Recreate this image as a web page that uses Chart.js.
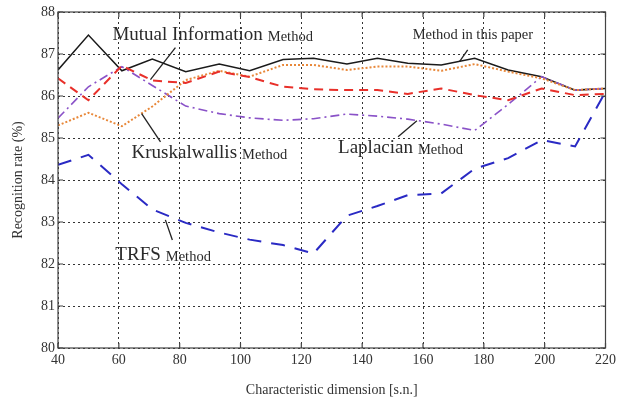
<!DOCTYPE html>
<html>
<head>
<meta charset="utf-8">
<script src="https://cdn.jsdelivr.net/npm/chart.js@4/dist/chart.umd.min.js"></script>
<style>
  html, body { margin: 0; padding: 0; background: #fff; }
  #wrap { width: 620px; height: 403px; }
</style>
</head>
<body>
<div id="wrap"><canvas id="chart"></canvas></div>
<script>
// characteristic dimension where the curves were sampled
const dims = [40, 50, 61, 71, 82, 93, 103, 114, 124, 135, 145, 155, 166, 177, 188, 199, 210, 220];

const thisPaper   = [86.62, 87.45, 86.6, 86.88, 86.58, 86.76, 86.6, 86.87, 86.9, 86.76, 86.9, 86.78, 86.74, 86.9, 86.62, 86.46, 86.14, 86.18];
const mutualInfo  = [86.42, 85.9, 86.72, 86.37, 86.31, 86.58, 86.45, 86.22, 86.16, 86.14, 86.14, 86.05, 86.18, 86.02, 85.9, 86.18, 86.02, 86.05];
const kruskal     = [85.3, 85.6, 85.28, 85.75, 86.38, 86.6, 86.46, 86.74, 86.74, 86.62, 86.7, 86.7, 86.6, 86.76, 86.58, 86.42, 86.14, 86.18];
const laplacian   = [85.47, 86.22, 86.7, 86.25, 85.76, 85.58, 85.48, 85.42, 85.46, 85.57, 85.52, 85.45, 85.33, 85.18, 85.8, 86.46, 86.14, 86.18];
const trfs        = [84.36, 84.6, 83.9, 83.3, 82.98, 82.75, 82.58, 82.45, 82.25, 83.15, 83.38, 83.64, 83.68, 84.27, 84.52, 84.95, 84.8, 86.1];

const xTicks = [40, 60, 80, 100, 120, 140, 160, 180, 200, 220];
const yTicks = [80, 81, 82, 83, 84, 85, 86, 87, 88];

// callouts: arrow tip and tail in data units, text offset in px from the tail
const notes = [
  { tip: [70.4, 86.39], tail: [78.6, 87.15], big: 'Mutual Information', small: 'Method', dx: -63, dy: -13 },
  { tip: [172, 86.82], tail: [174.7, 87.1], big: '', small: 'Method in this paper', dx: -55, dy: -15 },
  { tip: [67.5, 85.58], tail: [73.7, 84.91], big: 'Kruskalwallis', small: 'Method', dx: -29, dy: 11 },
  { tip: [158, 85.41], tail: [151.8, 85.03], big: 'Laplacian', small: 'Method', dx: -60, dy: 11 },
  { tip: [75.3, 83.05], tail: [77.6, 82.57], big: 'TRFS', small: 'Method', dx: -57, dy: 15 }
];

const serif = '"Liberation Serif", "Times New Roman", serif';

function series(label, values, color, dash, width) {
  return {
    label: label,
    data: dims.map((d, i) => ({ x: d, y: values[i] })),
    borderColor: color,
    borderDash: dash,
    borderWidth: width,
    pointRadius: 0,
    fill: false,
    tension: 0
  };
}

const frame = {
  id: 'frame',
  afterDatasetsDraw(chart) {
    const { ctx, chartArea: a, scales } = chart;
    ctx.save();
    ctx.strokeStyle = '#444';
    ctx.lineWidth = 1.2;
    ctx.strokeRect(a.left, a.top, a.right - a.left, a.bottom - a.top);
    ctx.beginPath();
    xTicks.forEach(v => {
      const px = scales.x.getPixelForValue(v);
      ctx.moveTo(px, a.bottom); ctx.lineTo(px, a.bottom - 5);
      ctx.moveTo(px, a.top); ctx.lineTo(px, a.top + 5);
    });
    yTicks.forEach(v => {
      const py = scales.y.getPixelForValue(v);
      ctx.moveTo(a.left, py); ctx.lineTo(a.left + 5, py);
      ctx.moveTo(a.right, py); ctx.lineTo(a.right - 5, py);
    });
    ctx.stroke();

    // callouts
    ctx.strokeStyle = '#222';
    ctx.lineWidth = 1.3;
    ctx.fillStyle = '#2a2a2a';
    ctx.textBaseline = 'middle';
    notes.forEach(n => {
      const tx = scales.x.getPixelForValue(n.tip[0]);
      const ty = scales.y.getPixelForValue(n.tip[1]);
      const sx = scales.x.getPixelForValue(n.tail[0]);
      const sy = scales.y.getPixelForValue(n.tail[1]);
      ctx.beginPath();
      ctx.moveTo(sx, sy);
      ctx.lineTo(tx, ty);
      ctx.stroke();
      let x = sx + n.dx;
      const y = sy + n.dy;
      if (n.big) {
        ctx.font = '19px ' + serif;
        ctx.fillText(n.big, x, y);
        x += ctx.measureText(n.big).width + 5;
      }
      ctx.font = '14.5px ' + serif;
      ctx.fillText(n.small, x, y + (n.big ? 2 : 0));
    });
    ctx.restore();
  }
};

new Chart(document.getElementById('chart'), {
  type: 'line',
  data: {
    datasets: [
      series('Mutual Information Method', mutualInfo, '#e8302a', [9, 6], 2),
      series('Kruskalwallis Method', kruskal, '#e8883a', [2, 2], 2),
      series('Laplacian Method', laplacian, '#8a52c8', [9, 4, 2, 4], 1.6),
      series('TRFS Method', trfs, '#2a2ac4', [14, 10], 2),
      series('Method in this paper', thisPaper, '#1a1a1a', [], 1.5)
    ]
  },
  options: {
    responsive: true,
    maintainAspectRatio: false,
    animation: false,
    layout: { padding: { left: 6, right: 13, top: 12, bottom: 0 } },
    plugins: {
      legend: { display: false },
      tooltip: { enabled: false }
    },
    scales: {
      x: {
        type: 'linear',
        min: 40,
        max: 220,
        afterBuildTicks(scale) { scale.ticks = xTicks.map(v => ({ value: v })); },
        afterFit(scale) { scale.height = 55; },
        grid: { color: '#333', lineWidth: 1, drawTicks: false },
        border: { display: false, dash: [2, 3] },
        ticks: { color: '#333', padding: 4, font: { family: serif, size: 14 } },
        title: {
          display: true,
          text: 'Characteristic dimension [s.n.]',
          color: '#333',
          padding: { top: 8 },
          font: { family: serif, size: 14 }
        }
      },
      y: {
        min: 80,
        max: 88,
        afterBuildTicks(scale) { scale.ticks = yTicks.map(v => ({ value: v })); },
        afterFit(scale) { scale.width = 52; },
        grid: { color: '#333', lineWidth: 1, drawTicks: false },
        border: { display: false, dash: [2, 3] },
        ticks: { color: '#333', padding: 3, font: { family: serif, size: 14 } },
        title: {
          display: true,
          text: 'Recognition rate (%)',
          color: '#333',
          padding: { bottom: 2 },
          font: { family: serif, size: 14 }
        }
      }
    }
  },
  plugins: [frame]
});
</script>
</body>
</html>
